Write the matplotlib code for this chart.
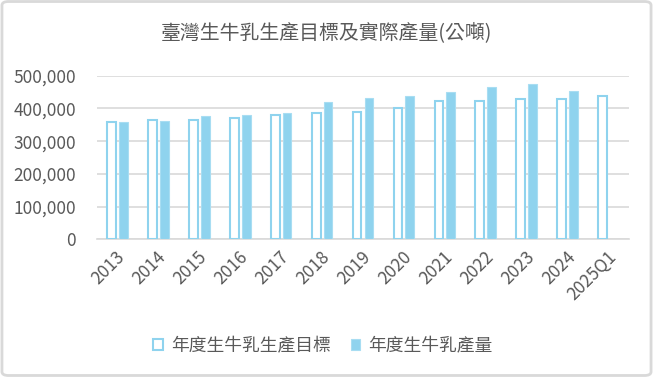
import matplotlib
matplotlib.use("Agg")
import matplotlib.pyplot as plt
from matplotlib.patches import FancyBboxPatch
import numpy as np

plt.rcParams['font.family'] = ['Noto Sans CJK TC', 'DejaVu Sans']

categories = ["2013", "2014", "2015", "2016", "2017", "2018", "2019",
              "2020", "2021", "2022", "2023", "2024", "2025Q1"]
target = [360000, 366000, 366000, 370000, 379000, 385000, 388000,
          401000, 422000, 422000, 430000, 430000, 437000]
actual = [358000, 362000, 376000, 379000, 385000, 421000, 433000,
          438000, 450000, 465000, 474000, 453000, None]
title = "臺灣生牛乳生產目標及實際產量(公噸)"
series_names = ["年度生牛乳生產目標", "年度生牛乳產量"]
yticks = [0, 100000, 200000, 300000, 400000, 500000]

text_c = "#595959"
blue = "#8FD3EE"
grid_c = "#D9D9D9"

fig = plt.figure(figsize=(6.53, 3.77), dpi=100)
fig.patch.set_facecolor("white")
border = FancyBboxPatch((0.003, 0.004), 0.994, 0.992,
                        boxstyle="round,pad=0,rounding_size=0.01",
                        transform=fig.transFigure, facecolor="none",
                        edgecolor="#D9D9D9", linewidth=2)
fig.patches.append(border)

ax = fig.add_axes([97/653, 1-239.3/377, (629-97)/653, (239.3-75.7)/377])
x = np.arange(len(categories))
w = 0.215
off = 0.145
ax.bar(x - off, target, width=w, facecolor="white", edgecolor=blue,
       linewidth=1.5, zorder=3, label=series_names[0])
act_vals = [np.nan if v is None else v for v in actual]
ax.bar(x + off, act_vals, width=w, facecolor=blue, edgecolor="#A8DDF2",
       linewidth=0.8, zorder=3, label=series_names[1])

ax.set_xlim(-0.5, len(categories) - 0.5)
ax.set_ylim(0, 500000)
ax.set_yticks(yticks)
ax.set_yticklabels([f"{v:,}" for v in yticks])
ax.yaxis.grid(True, color=grid_c, linewidth=1.2, zorder=0)
ax.set_axisbelow(True)
for s in ["top", "right", "left"]:
    ax.spines[s].set_visible(False)
ax.spines["bottom"].set_color(grid_c)
ax.spines["bottom"].set_linewidth(1.2)
ax.tick_params(axis="y", length=0, pad=15, labelsize=12.5, labelcolor=text_c)
ax.tick_params(axis="x", length=0, pad=4, labelsize=12.5, labelcolor=text_c)
ax.set_xticks(x)
ax.set_xticklabels(categories, rotation=45, ha="right", va="center",
                   rotation_mode="anchor")
for lbl in ax.get_xticklabels():
    lbl.set_transform(lbl.get_transform() +
                      matplotlib.transforms.ScaledTranslation(5/100, -9/100, fig.dpi_scale_trans))

fig.text(0.5, 1-33/377, title, ha="center", va="center", fontsize=14.3,
         color=text_c)

leg = fig.legend(loc="center", bbox_to_anchor=(323/653, 1-346/377),
                 ncol=2, frameon=False, fontsize=12.8, labelcolor=text_c,
                 handlelength=0.55, handleheight=0.55, handletextpad=0.45,
                 columnspacing=1.1)
plt.savefig("out.png", dpi=100)
